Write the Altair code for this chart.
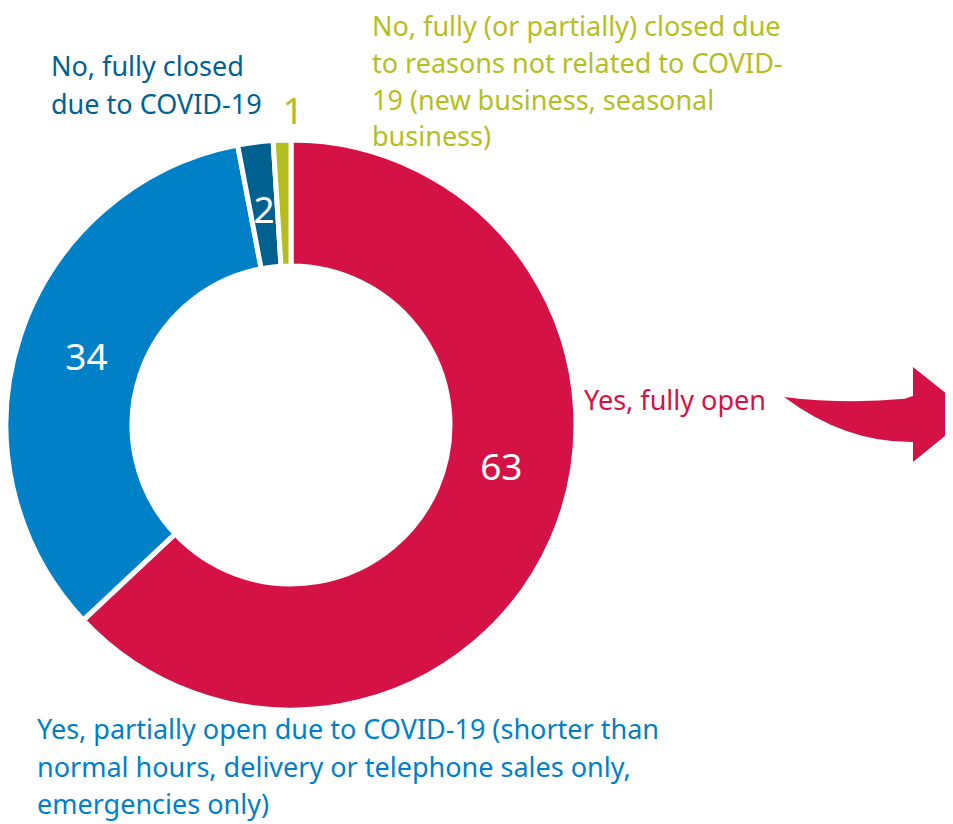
import altair as alt
import pandas as pd

# ---- data ----
categories = [
    "Yes, fully open",
    "Yes, partially open due to COVID-19",
    "No, fully closed due to COVID-19",
    "No, closed for other reasons",
]
values = [63, 34, 2, 1]
slice_order = [1, 2, 3, 4]
colors = ["#D41245", "#0080C6", "#006191", "#B4BE1E"]

label_texts = [
    "Yes, fully open",
    "Yes, partially open due to COVID-19 (shorter than\nnormal hours, delivery or telephone sales only,\nemergencies only)",
    "No, fully closed\ndue to COVID-19",
    "No, fully (or partially) closed due\nto reasons not related to COVID-\n19 (new business, seasonal\nbusiness)",
]

df = pd.DataFrame({
    "category": categories,
    "value": values,
    "order": slice_order,
    "outer": ["", "", "", "1"],
    "main": ["63", "", "", ""],
    "rest": ["", "34", "2", ""],
})

W, H = 937, 816
CX, CY = 283, 417
FONT = "Noto Sans"
LSIZE = 27
LH = 37.5

color_scale = alt.Scale(domain=categories, range=colors)

base = alt.Chart(df).encode(
    theta=alt.Theta("value:Q", stack=True),
    order=alt.Order("order:Q"),
    x=alt.value(CX),
    y=alt.value(CY),
)

arcs = base.mark_arc(outerRadius=285, innerRadius=159, stroke="white", strokeWidth=5).encode(
    color=alt.Color("category:N", scale=color_scale, legend=None)
)

txt_rest = base.mark_text(radius=215, font=FONT, fontSize=37, color="white").encode(text="rest:N")
txt_main = base.mark_text(radius=215, font=FONT, fontSize=37, color="white", thetaOffset=-0.2).encode(text="main:N")
txt_outer = base.mark_text(radius=312, font=FONT, fontSize=37, color=colors[3], thetaOffset=0.038).encode(text="outer:N")


def cat_label(text, color, x, y, lh=LH):
    return alt.Chart(pd.DataFrame({"t": [text]})).mark_text(
        align="left", baseline="alphabetic", font=FONT, fontSize=LSIZE,
        lineBreak="\n", lineHeight=lh, color=color,
    ).encode(text="t:N", x=alt.value(x), y=alt.value(y))


lab_open = cat_label(label_texts[0], colors[0], 576, 402)
lab_partial = cat_label(label_texts[1], colors[1], 29, 731)
lab_closed = cat_label(label_texts[2], colors[2], 43, 68)
lab_other = cat_label(label_texts[3], colors[3], 364, 28, lh=36.8)

arrow_path = ("M -1.01 -0.18 Q -0.37 -0.1 0.26 -0.16 L 0.347 -0.19 L 0.347 -0.495 "
              "L 0.968 0 L 0.347 0.505 L 0.347 0.295 Q -0.37 0.3 -1.01 -0.18 Z")
arrow = alt.Chart(pd.DataFrame({"a": [1]})).mark_point(
    shape=arrow_path, filled=True, fill=colors[0], stroke=None, opacity=1, size=36100,
).encode(x=alt.value(872), y=alt.value(406))

chart = alt.layer(
    arcs, txt_rest, txt_main, txt_outer, lab_open, lab_partial, lab_closed, lab_other, arrow
).properties(
    width=W, height=H, padding=0, autosize=alt.AutoSizeParams(type="none")
).configure_view(stroke=None)

chart.save("out.html", embed_options={"renderer": "svg", "actions": False})
